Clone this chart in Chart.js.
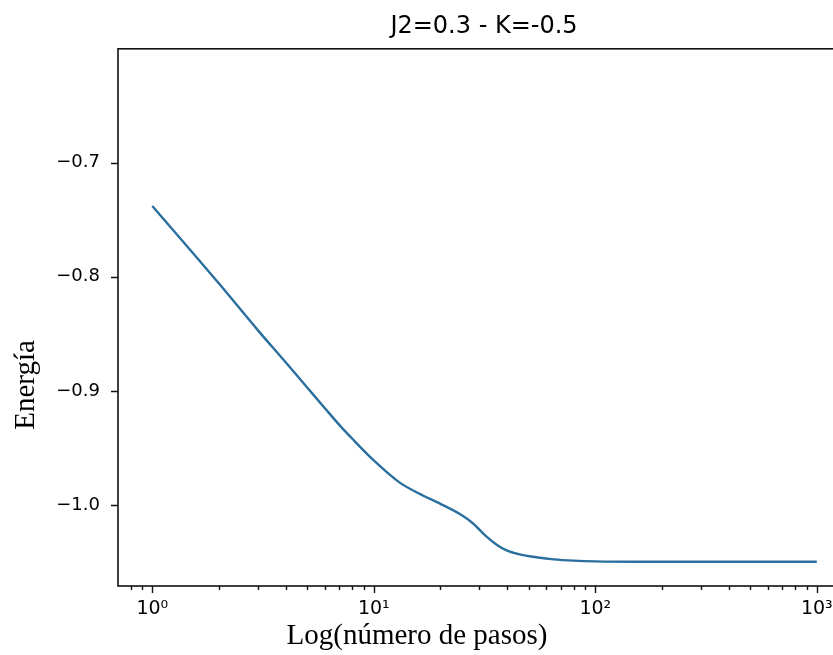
<!DOCTYPE html>
<html>
<head>
<meta charset="utf-8">
<script src="https://cdn.jsdelivr.net/npm/chart.js@4.4.1/dist/chart.umd.min.js"></script>
<style>
  html, body { margin: 0; padding: 0; background: #fff; overflow: hidden; }
  #wrap { width: 833px; height: 655px; overflow: hidden; }
</style>
</head>
<body>
<div id="wrap"><canvas id="chart" width="850" height="655"></canvas></div>
<script>
// data
var steps  = [1, 2, 3, 4, 5, 6, 7, 8, 10, 13, 16, 20, 25, 28, 32, 36, 40, 45, 55, 65, 80, 100, 150, 300, 1000];
var energy = [-0.738, -0.806, -0.847, -0.875, -0.897, -0.915, -0.930, -0.942, -0.961, -0.980, -0.990, -0.999,
              -1.009, -1.016, -1.027, -1.035, -1.040, -1.043, -1.046, -1.0477, -1.0488, -1.0494, -1.0497, -1.0497, -1.0497];
var yTicks = [-1.0, -0.9, -0.8, -0.7];
var xMajor = [1, 10, 100, 1000];
var title  = 'J2=0.3 - K=-0.5';
var xTitle = 'Log(número de pasos)';
var yTitle = 'Energía';

var xMin = Math.pow(10, -0.15), xMax = Math.pow(10, 3.15);
var sup = {'0':'\u2070','1':'\u00b9','2':'\u00b2','3':'\u00b3'};

// minor + major ticks of the log axis, 1..9 x 10^k, inside the range
var xTicks = [];
for (var k = -1; k <= 3; k++)
  for (var m = 1; m <= 9; m++) {
    var v = m * Math.pow(10, k);
    if (v >= xMin && v <= xMax) xTicks.push(v);
  }

function isMajor(v) { return xMajor.indexOf(v) >= 0; }

// frame, tick marks and the two axis labels (they sit off-centre in the original)
var frame = {
  id: 'frame',
  afterDraw: function(chart) {
    var ctx = chart.ctx, a = chart.chartArea;
    var xs = chart.scales.x, ys = chart.scales.y;
    ctx.save();
    ctx.strokeStyle = '#111';
    ctx.lineWidth = 1.4;
    ctx.beginPath();
    xs.ticks.forEach(function(t) {
      var px = Math.round(xs.getPixelForValue(t.value)) + 0.5;
      if (px < a.left || px > a.right) return;
      var len = isMajor(t.value) ? 7 : 4;
      ctx.moveTo(px, a.bottom); ctx.lineTo(px, a.bottom + len);
    });
    ys.ticks.forEach(function(t) {
      var py = Math.round(ys.getPixelForValue(t.value)) + 0.5;
      ctx.moveTo(a.left, py); ctx.lineTo(a.left - 7, py);
    });
    ctx.stroke();
    ctx.lineWidth = 1.6;
    ctx.strokeRect(a.left, a.top, a.right - a.left, a.bottom - a.top);

    ctx.fillStyle = '#000';
    ctx.font = '29px "Liberation Serif"';
    ctx.textAlign = 'center';
    ctx.textBaseline = 'middle';
    ctx.fillText(xTitle, 417, 636);
    ctx.translate(26, 385);
    ctx.rotate(-Math.PI / 2);
    ctx.fillText(yTitle, 0, 0);
    ctx.restore();
  }
};

new Chart(document.getElementById('chart').getContext('2d'), {
  type: 'line',
  data: {
    datasets: [{
      data: steps.map(function(s, i) { return {x: s, y: energy[i]}; }),
      borderColor: '#2a6f9e',
      borderWidth: 2.4,
      pointRadius: 0,
      fill: false,
      cubicInterpolationMode: 'monotone'
    }]
  },
  options: {
    responsive: false,
    animation: false,
    layout: { padding: 0 },
    plugins: {
      legend: { display: false },
      tooltip: { enabled: false },
      title: {
        display: true,
        text: title,
        fullSize: false,
        color: '#000',
        font: { family: 'DejaVu Sans', size: 24, weight: 'normal' },
        padding: { top: 12, bottom: 8 }
      }
    },
    scales: {
      x: {
        type: 'logarithmic',
        min: xMin,
        max: xMax,
        grid: { display: false, drawTicks: false },
        border: { display: false },
        afterBuildTicks: function(s) { s.ticks = xTicks.map(function(v) { return {value: v}; }); },
        afterFit: function(s) { s.height = 69; },
        ticks: {
          autoSkip: false,
          maxRotation: 0,
          padding: 12,
          color: '#000',
          font: { family: 'DejaVu Sans', size: 19 },
          callback: function(v) {
            if (!isMajor(v)) return '';
            return '10' + sup[String(Math.round(Math.log10(v)))];
          }
        }
      },
      y: {
        min: -1.071,
        max: -0.6003,
        grid: { display: false, drawTicks: false },
        border: { display: false },
        afterBuildTicks: function(s) { s.ticks = yTicks.map(function(v) { return {value: v}; }); },
        afterFit: function(s) { s.width = 118; },
        ticks: {
          padding: 18,
          color: '#000',
          font: { family: 'DejaVu Sans', size: 18 },
          callback: function(v) { return (v < 0 ? '\u2212' : '') + Math.abs(v).toFixed(1); }
        }
      }
    }
  },
  plugins: [frame]
});
</script>
</body>
</html>
